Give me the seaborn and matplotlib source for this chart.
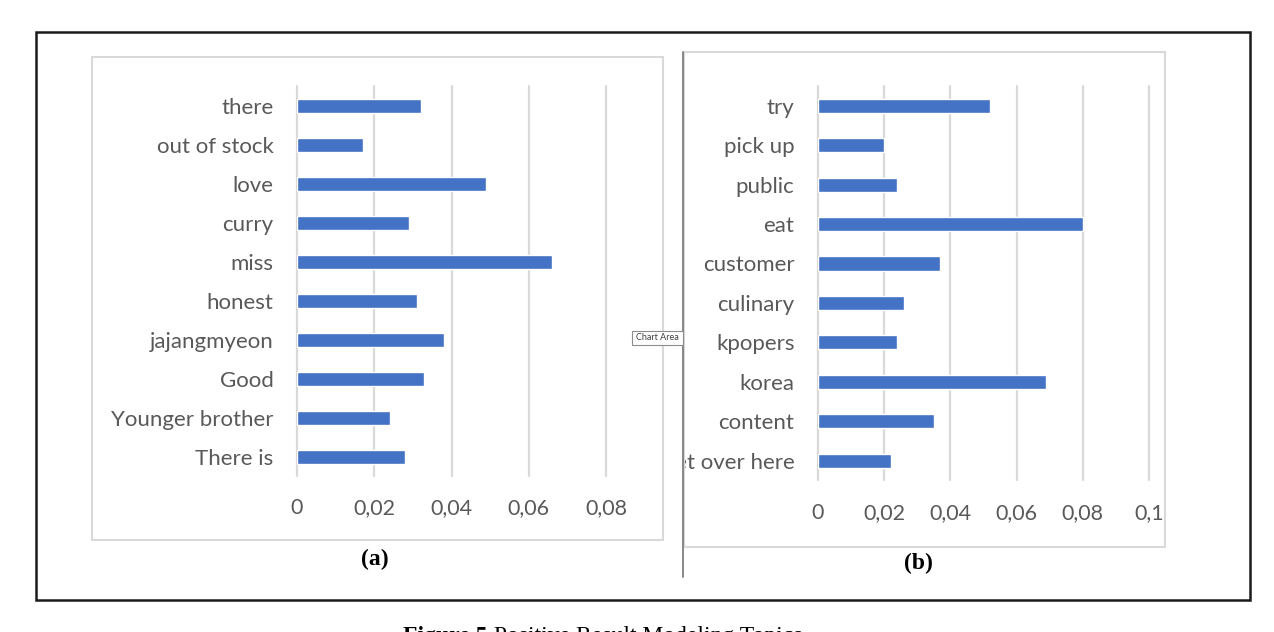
import matplotlib
matplotlib.use("Agg")
import matplotlib.pyplot as plt
from matplotlib.patches import Rectangle
from matplotlib.lines import Line2D
import seaborn as sns

# ======================
# data
# ======================
words_a = ["there", "out of stock", "love", "curry", "miss", "honest",
           "jajangmyeon", "Good", "Younger brother", "There is"]
vals_a = [0.032, 0.017, 0.049, 0.029, 0.066, 0.031, 0.038, 0.033, 0.024, 0.028]

words_b = ["try", "pick up", "public", "eat", "customer", "culinary",
           "kpopers", "korea", "content", "Get over here"]
vals_b = [0.052, 0.020, 0.024, 0.080, 0.037, 0.026, 0.024, 0.069, 0.035, 0.022]

ticks_a = [0, 0.02, 0.04, 0.06, 0.08]
ticklabels_a = ["0", "0,02", "0,04", "0,06", "0,08"]
ticks_b = [0, 0.02, 0.04, 0.06, 0.08, 0.1]
ticklabels_b = ["0", "0,02", "0,04", "0,06", "0,08", "0,1"]

BLUE = "#4472C4"
GRID = "#D9D9D9"
TXT = "#595959"

sns.set_theme(style="white")
plt.rcParams['font.family'] = ['Lato', 'DejaVu Sans']

W, H = 1274, 632
fig = plt.figure(figsize=(W / 100, H / 100), dpi=100)


def px(x0, y0, x1, y1):
    # pixel box (top-left origin) -> figure rect
    return [x0 / W, 1 - y1 / H, (x1 - x0) / W, (y1 - y0) / H]


# outer frame and chart areas
fig.add_artist(Rectangle((36 / W, 1 - 600 / H), 1214 / W, 568 / H, transform=fig.transFigure,
                         fill=False, ec="#1a1a1a", lw=1.8))
fig.add_artist(Rectangle((92 / W, 1 - 540 / H), 571 / W, 483 / H, transform=fig.transFigure,
                         fill=False, ec=GRID, lw=1.5))
fig.add_artist(Rectangle((684 / W, 1 - 547 / H), 481 / W, 495 / H, transform=fig.transFigure,
                         fill=False, ec=GRID, lw=1.5))
fig.add_artist(Line2D([683 / W, 683 / W], [1 - 52 / H, 1 - 577 / H], transform=fig.transFigure,
                      color="#7f7f7f", lw=1.3))


def panel(rect, words, vals, ticks, ticklabels, clip=None):
    ax = fig.add_axes(rect)
    sns.barplot(x=vals, y=words, orient="h", color=BLUE, width=0.36,
                saturation=1, ax=ax, zorder=3)
    ax.set_xlim(ticks[0], ticks[-1])
    ax.set_xticks(ticks)
    ax.set_xticklabels(ticklabels)
    ax.grid(axis="x", color=GRID, lw=1.6)
    ax.grid(axis="y", visible=False)
    ax.set_axisbelow(True)
    for s in ax.spines.values():
        s.set_visible(False)
    ax.tick_params(axis="x", length=0, pad=16, labelsize=15.5, labelcolor=TXT)
    ax.tick_params(axis="y", length=0, pad=17, labelsize=16, labelcolor=TXT)
    ax.set_xlabel("")
    ax.set_ylabel("")
    for ln in ax.get_xgridlines():
        ln.set_clip_on(False)
    if clip is not None:
        box = Rectangle((clip[0], clip[1]), clip[2], clip[3], transform=fig.transFigure)
        for lab in ax.get_yticklabels():
            lab.set_clip_path(box)
    return ax


ax1 = panel(px(297, 86.2, 606, 476.2), words_a, vals_a, ticks_a, ticklabels_a)
ax2 = panel(px(818, 86, 1149, 480.4), words_b, vals_b, ticks_b, ticklabels_b,
            clip=px(685, 52, 1165, 547))

# panel letters
fig.text(375 / W, 1 - 559 / H, "(a)", family="Liberation Serif", weight="bold",
         fontsize=17, ha="center", va="center", color="black")
fig.text(918 / W, 1 - 563 / H, "(b)", family="Liberation Serif", weight="bold",
         fontsize=17, ha="center", va="center", color="black")

# "Chart Area" tooltip
fig.add_artist(Rectangle((632 / W, 1 - 345 / H), 51 / W, 14 / H, transform=fig.transFigure,
                         fc="white", ec="#8c8c8c", lw=0.8, zorder=5))
fig.text(657.5 / W, 1 - 338 / H, "Chart Area", fontsize=6.5, color="#404040",
         ha="center", va="center", zorder=6)

# caption, cut at the bottom edge as in the source
t1 = fig.text(403 / W, 1 - 626 / H, "Figure 5", family="Liberation Serif",
              weight="bold", fontsize=17, ha="left", va="top", color="black")
ax1.annotate(" Positive Result Modeling Topics", xy=(1, 1), xycoords=t1,
             ha="left", va="top", family="Liberation Serif", fontsize=17,
             color="black", annotation_clip=False)

fig.savefig("out.png", dpi=100, facecolor="white")
